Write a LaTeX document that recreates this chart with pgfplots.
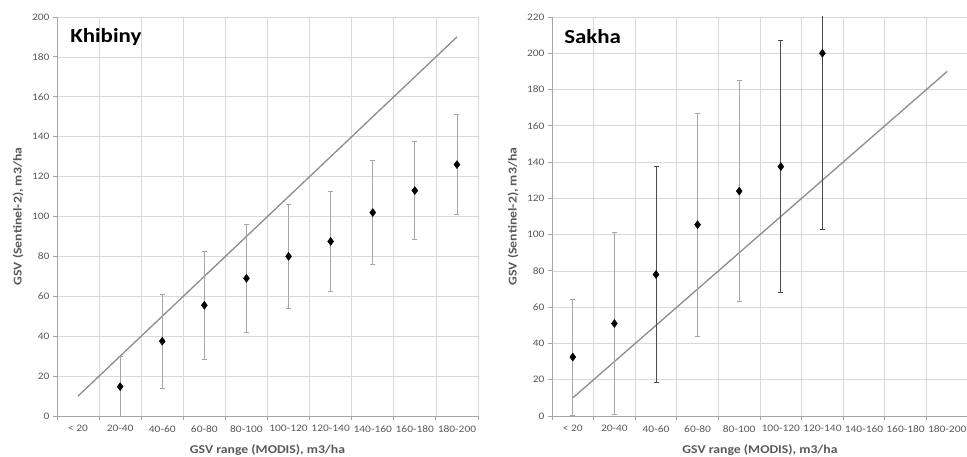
\documentclass[border=0pt]{standalone}
\usepackage{fontspec}
\setmainfont{Carlito}[FakeStretch=1.15]
\usepackage{pgfplots}
\pgfplotsset{compat=1.18}
\definecolor{tickc}{HTML}{595959}
\definecolor{gridc}{HTML}{D9D9D9}
\definecolor{axc}{HTML}{A6A6A6}
\definecolor{linec}{HTML}{8C8C8C}
\definecolor{errl}{HTML}{A6A6A6}
\definecolor{errd}{HTML}{4A4A4A}

\pgfplotstableread{
x y e
1 14.7 15
2 37.5 23.5
3 55.5 27
4 69 27
5 80 26
6 87.5 25
7 102 26
8 113 24.5
9 126 25
}\khibiny
\pgfplotstableread{
x y e
0 32.5 32
1 51 50
3 105.5 61.5
4 124 61
}\sakhalight
\pgfplotstableread{
x y e
2 78 59.5
5 137.5 69.5
6 200 97
}\sakhadark
\pgfplotstableread{
x y
0 10
9 190
}\oneone

\pgfplotsset{gsv/.style={
  scale only axis, height=399bp,
  ymin=0, xmin=-0.5, xmax=9.5,
  xtick={0,...,9},
  xticklabels={< 20,20-40,40-60,60-80,80-100,100-120,120-140,140-160,160-180,180-200},
  minor xtick={-0.5,0.5,...,9.5},
  xminorgrids, ymajorgrids,
  grid style={draw=gridc, line width=0.75bp},
  minor grid style={draw=gridc, line width=0.75bp},
  axis x line*=bottom, axis y line*=left,
  axis line style={draw=axc, line width=0.9bp},
  tick align=outside,
  x tick style={draw=none},
  minor x tick style={draw=axc, line width=0.9bp},
  y tick style={draw=axc, line width=0.9bp},
  major tick length=4bp, minor tick length=4bp,
  tick label style={font=\fontsize{10}{12}\selectfont, text=tickc},
  /pgf/number format/assume math mode=true,
  xticklabel style={yshift=-2bp},
  every axis x label/.style={at={(axis description cs:0.5,-0.0852)}, anchor=center,
    font=\bfseries\fontsize{12}{14}\selectfont, text=tickc},
}}

\begin{document}
\begin{tikzpicture}
\useasboundingbox (0,0) rectangle (967bp,457bp);
\begin{axis}[gsv, at={(57bp,41bp)}, anchor=south west, width=421bp,
  ymax=200, ytick={0,20,...,200},
  xlabel={GSV range (MODIS), m3/ha},
  ylabel={GSV (Sentinel-2), m3/ha},
  every axis y label/.style={at={(axis description cs:-0.0926,0.5)}, anchor=center, rotate=90,
    font=\bfseries\fontsize{12}{14}\selectfont, text=tickc}]
\addplot[linec, line width=1.3bp, no marks] table[x=x,y=y] {\oneone};
\addplot[only marks, mark=diamond*, mark size=4bp, black,
  error bars/.cd, y dir=both, y explicit,
  error bar style={errl, line width=0.8bp},
  error mark options={rotate=90, mark size=2.5bp, errl, line width=0.8bp}]
  table[x=x, y=y, y error=e] {\khibiny};
\node[anchor=west, inner sep=0pt, font=\bfseries\fontsize{20}{24}\selectfont] at (axis description cs:0.031,0.95) {Khibiny};
\end{axis}

\begin{axis}[gsv, at={(552bp,41bp)}, anchor=south west, width=416bp,
  ymax=220, ytick={0,20,...,220},
  xlabel={GSV range (MODIS), m3/ha},
  ylabel={GSV (Sentinel-2), m3/ha},
  every axis y label/.style={at={(axis description cs:-0.0938,0.5)}, anchor=center, rotate=90,
    font=\bfseries\fontsize{12}{14}\selectfont, text=tickc}]
\addplot[linec, line width=1.3bp, no marks] table[x=x,y=y] {\oneone};
\addplot[only marks, mark=diamond*, mark size=4bp, black,
  error bars/.cd, y dir=both, y explicit,
  error bar style={errl, line width=0.8bp},
  error mark options={rotate=90, mark size=2.5bp, errl, line width=0.8bp}]
  table[x=x, y=y, y error=e] {\sakhalight};
\addplot[only marks, mark=diamond*, mark size=4bp, black,
  error bars/.cd, y dir=both, y explicit,
  error bar style={errd, line width=0.8bp},
  error mark options={rotate=90, mark size=2.5bp, errd, line width=0.8bp}]
  table[x=x, y=y, y error=e] {\sakhadark};
\node[anchor=west, inner sep=0pt, font=\bfseries\fontsize{20}{24}\selectfont] at (axis description cs:0.029,0.95) {Sakha};
\end{axis}
\end{tikzpicture}
\end{document}
